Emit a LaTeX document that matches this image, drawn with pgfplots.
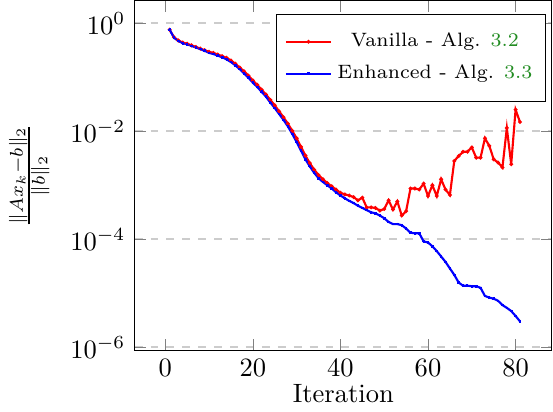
\documentclass[border=0pt]{standalone}
\usepackage{pgfplots}
\pgfplotsset{compat=1.18}
\definecolor{refgreen}{rgb}{0.13,0.55,0.13}
\begin{document}
\begin{tikzpicture}
\begin{axis}[
  scale only axis,
  width=157.4pt, height=132pt,
  ymode=log,
  xmin=-7, xmax=88.3,
  ymin=8.7e-7, ymax=2.63,
  ytick={1,1e-2,1e-4,1e-6},
  xtick={0,20,40,60,80},
  ymajorgrids,
  major grid style={dashed, gray!40, thick},
  xlabel={Iteration},
  ylabel={$\frac{\|Ax_k-b\|_2}{\|b\|_2}$},
  ylabel shift=1pt,
  xlabel style={yshift=4.2pt},
  legend style={at={(0.986,0.962)}, anchor=north east, font=\fontsize{7.3pt}{9pt}\selectfont, row sep=1.3pt, inner ysep=5pt},
  legend cell align=center,
]
\addplot[red, thick, mark=*, mark size=0.25pt] coordinates {
(1,0.759) (2,0.550) (3,0.479) (4,0.437) (5,0.417) (6,0.389) (7,0.363) (8,0.339) (9,0.316) (10,0.295)
(11,0.282) (12,0.263) (13,0.245) (14,0.229) (15,0.204) (16,0.178) (17,0.151) (18,0.129) (19,0.107) (20,0.0871)
(21,0.0724) (22,0.0589) (23,0.0479) (24,0.0380) (25,0.0302) (26,0.0234) (27,0.0182) (28,0.0138) (29,0.0102) (30,0.00741)
(31,0.00513) (32,0.00355) (33,0.00257) (34,0.00195) (35,0.00155) (36,0.00129) (37,0.00110) (38,9.55e-4) (39,8.32e-4) (40,7.24e-4)
(41,6.76e-4) (42,6.46e-4) (43,6.03e-4) (44,5.25e-4) (45,5.89e-4) (46,3.89e-4) (47,3.89e-4) (48,3.80e-4) (49,3.39e-4) (50,3.63e-4)
(51,5.25e-4) (52,3.55e-4) (53,5.01e-4) (54,2.75e-4) (55,3.31e-4) (56,8.71e-4) (57,8.71e-4) (58,8.32e-4) (59,1.07e-3) (60,6.31e-4)
(61,1.00e-3) (62,6.31e-4) (63,1.29e-3) (64,8.32e-4) (65,6.61e-4) (66,2.82e-3) (67,3.47e-3) (68,4.17e-3) (69,4.17e-3) (70,5.01e-3)
(71,3.24e-3) (72,3.24e-3) (73,7.41e-3) (74,5.37e-3) (75,3.02e-3) (76,2.63e-3) (77,2.14e-3) (78,1.15e-2) (79,2.45e-3) (80,2.51e-2)
(81,1.48e-2)
};
\addlegendentry{Vanilla - Alg. \textcolor{refgreen}{3.2}}
\addplot[blue, thick, mark=+, mark size=0.5pt] coordinates {
(1,0.759) (2,0.537) (3,0.468) (4,0.427) (5,0.407) (6,0.380) (7,0.355) (8,0.331) (9,0.309) (10,0.282)
(11,0.269) (12,0.251) (13,0.234) (14,0.214) (15,0.191) (16,0.166) (17,0.141) (18,0.117) (19,0.0977) (20,0.0794)
(21,0.0661) (22,0.0537) (23,0.0437) (24,0.0339) (25,0.0269) (26,0.0209) (27,0.0162) (28,0.0123) (29,0.00891) (30,0.00631)
(31,0.00437) (32,0.00302) (33,0.00224) (34,0.00170) (35,0.00135) (36,0.00115) (37,0.00100) (38,8.71e-4) (39,7.41e-4) (40,6.46e-4)
(41,5.75e-4) (42,5.13e-4) (43,4.68e-4) (44,4.17e-4) (45,3.80e-4) (46,3.47e-4) (47,3.16e-4) (48,3.02e-4) (49,2.75e-4) (50,2.45e-4)
(51,2.09e-4) (52,1.91e-4) (53,1.91e-4) (54,1.82e-4) (55,1.58e-4) (56,1.32e-4) (57,1.29e-4) (58,1.29e-4) (59,9.12e-5) (60,8.71e-5)
(61,7.41e-5) (62,6.03e-5) (63,4.79e-5) (64,3.80e-5) (65,2.88e-5) (66,2.19e-5) (67,1.58e-5) (68,1.38e-5) (69,1.38e-5) (70,1.35e-5)
(71,1.35e-5) (72,1.26e-5) (73,8.91e-6) (74,8.32e-6) (75,7.94e-6) (76,7.24e-6) (77,6.03e-6) (78,5.37e-6) (79,4.68e-6) (80,3.80e-6)
(81,3.02e-6)
};
\addlegendentry{Enhanced - Alg. \textcolor{refgreen}{3.3}}
\end{axis}
\end{tikzpicture}
\end{document}
